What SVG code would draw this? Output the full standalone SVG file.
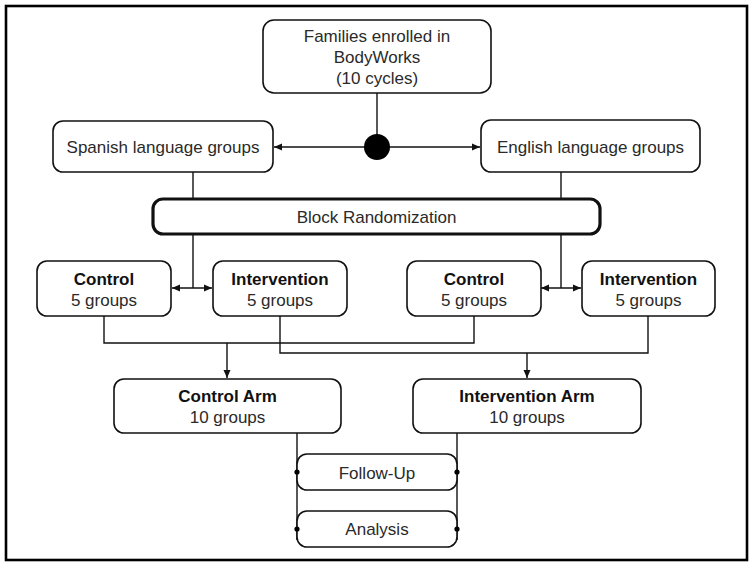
<svg xmlns="http://www.w3.org/2000/svg" width="754" height="568" viewBox="0 0 754 568">
<style>
.box{fill:#fff;stroke:#111;stroke-width:1.6}
.thick{fill:#fff;stroke:#111;stroke-width:3.2}
.t{font-family:"Liberation Sans",Arial,Helvetica,sans-serif;font-size:17px;fill:#2a2a2a;text-anchor:middle}
.b{font-weight:bold;fill:#111}
.c{fill:none;stroke:#111;stroke-width:1.4}
</style>
<defs>
<marker id="ah" viewBox="0 0 8 8" refX="8" refY="4" markerWidth="8" markerHeight="8" markerUnits="userSpaceOnUse" orient="auto-start-reverse">
<path d="M0,0.5 L8,4 L0,7.5 z" fill="#111"/>
</marker>
</defs>
<rect x="6" y="6" width="741" height="554" fill="#fff" stroke="#000" stroke-width="2.6"/>
<g id="connectors">
<line class="c" x1="377" y1="93" x2="377" y2="147"/>
<line class="c" x1="370" y1="147" x2="274" y2="147" marker-end="url(#ah)"/>
<line class="c" x1="384" y1="147" x2="480" y2="147" marker-end="url(#ah)"/>
<line class="c" x1="193" y1="172" x2="193" y2="199"/>
<line class="c" x1="193" y1="234" x2="193" y2="288"/>
<line class="c" x1="172" y1="288" x2="212" y2="288" marker-start="url(#ah)" marker-end="url(#ah)"/>
<line class="c" x1="561" y1="172" x2="561" y2="199"/>
<line class="c" x1="561" y1="234" x2="561" y2="288"/>
<line class="c" x1="541" y1="288" x2="581" y2="288" marker-start="url(#ah)" marker-end="url(#ah)"/>
<path class="c" d="M104,316 V343 H474 V316"/>
<line class="c" x1="227" y1="343" x2="227" y2="378" marker-end="url(#ah)"/>
<path class="c" d="M280,316 V353 H648 V316"/>
<line class="c" x1="527" y1="353" x2="527" y2="378" marker-end="url(#ah)"/>
<line class="c" x1="297" y1="433" x2="297" y2="540"/>
<line class="c" x1="457" y1="433" x2="457" y2="540"/>
</g>
<g id="split"><circle cx="377" cy="147" r="13" fill="#000"/></g>
<g id="families">
<rect class="box" x="263" y="20" width="228" height="73" rx="11"/>
<text class="t" x="377" y="42">Families enrolled in</text>
<text class="t" x="377" y="63">BodyWorks</text>
<text class="t" x="377" y="84">(10 cycles)</text>
</g>
<g id="spanish">
<rect class="box" x="53" y="121" width="220" height="51" rx="10"/>
<text class="t" x="163" y="153">Spanish language groups</text>
</g>
<g id="english">
<rect class="box" x="481" y="120" width="219" height="52" rx="10"/>
<text class="t" x="590.5" y="153">English language groups</text>
</g>
<g id="block">
<rect class="thick" x="153" y="199" width="447" height="35" rx="10"/>
<text class="t" x="376.5" y="223">Block Randomization</text>
</g>
<g id="control1">
<rect class="box" x="37" y="261" width="134" height="55" rx="10"/>
<text class="t b" x="104" y="285">Control</text>
<text class="t" x="104" y="306">5 groups</text>
</g>
<g id="intervention1">
<rect class="box" x="213" y="261" width="134" height="55" rx="10"/>
<text class="t b" x="280" y="285">Intervention</text>
<text class="t" x="280" y="306">5 groups</text>
</g>
<g id="control2">
<rect class="box" x="407" y="261" width="134" height="55" rx="10"/>
<text class="t b" x="474" y="285">Control</text>
<text class="t" x="474" y="306">5 groups</text>
</g>
<g id="intervention2">
<rect class="box" x="582" y="261" width="133" height="55" rx="10"/>
<text class="t b" x="648.5" y="285">Intervention</text>
<text class="t" x="648.5" y="306">5 groups</text>
</g>
<g id="controlArm">
<rect class="box" x="114" y="379" width="227" height="54" rx="10"/>
<text class="t b" x="227.5" y="402">Control Arm</text>
<text class="t" x="227.5" y="423">10 groups</text>
</g>
<g id="interventionArm">
<rect class="box" x="413" y="379" width="228" height="54" rx="10"/>
<text class="t b" x="527" y="402">Intervention Arm</text>
<text class="t" x="527" y="423">10 groups</text>
</g>
<g id="followup">
<rect class="box" x="297" y="454" width="160" height="36" rx="10"/>
<text class="t" x="377" y="479">Follow-Up</text>
<circle cx="297" cy="472" r="2.6" fill="#000"/>
<circle cx="457" cy="472" r="2.6" fill="#000"/>
</g>
<g id="analysis">
<rect class="box" x="297" y="511" width="160" height="36" rx="10"/>
<text class="t" x="377" y="535">Analysis</text>
<circle cx="297" cy="529" r="2.6" fill="#000"/>
<circle cx="457" cy="529" r="2.6" fill="#000"/>
</g>
</svg>
